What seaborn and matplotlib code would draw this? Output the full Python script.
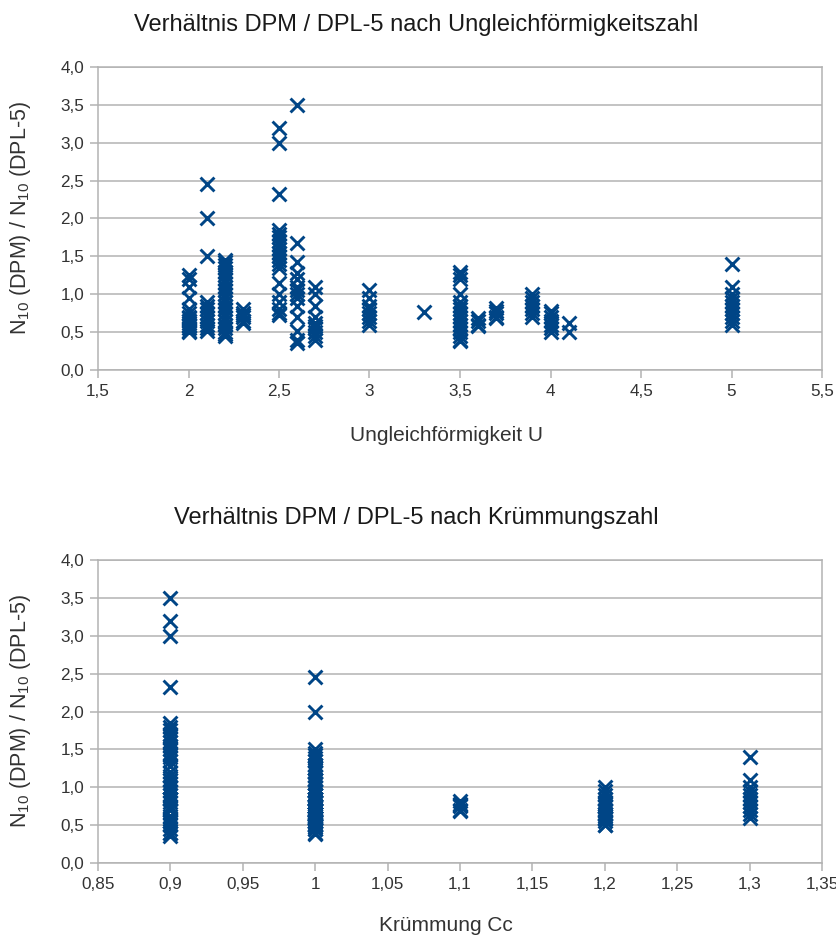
import numpy as np
import pandas as pd
import seaborn as sns
import matplotlib.pyplot as plt
from matplotlib.ticker import FuncFormatter, MultipleLocator

# one group per sample set: Ungleichförmigkeit U, Krümmung Cc, ratios N10(DPM)/N10(DPL-5)
u_werte = [2.0, 2.1, 2.2, 2.3, 2.5, 2.6, 2.7, 3.0, 3.3, 3.5, 3.6, 3.7, 3.9, 4.0, 4.1, 5.0]
cc_werte = [1.0, 1.0, 1.0, 1.0, 0.9, 0.9, 0.9, 1.0, 1.1, 1.0, 1.2, 1.1, 1.2, 1.2, 1.2, 1.3]
verhaeltnisse = [
    [1.25, 1.2, 1.1, 0.95, 0.8, 0.75, 0.7, 0.68, 0.65, 0.62, 0.6, 0.58, 0.55, 0.52, 0.5],
    [2.45, 2.0, 1.5, 0.9, 0.85, 0.8, 0.75, 0.7, 0.65, 0.6, 0.55, 0.52],
    [1.45, 1.42, 1.38, 1.35, 1.3, 1.25, 1.2, 1.15, 1.1, 1.05, 1.0, 0.95, 0.9, 0.85,
     0.8, 0.75, 0.7, 0.65, 0.6, 0.55, 0.5, 0.47, 0.45],
    [0.8, 0.75, 0.72, 0.7, 0.65, 0.62],
    [3.2, 3.0, 2.33, 1.85, 1.8, 1.75, 1.7, 1.65, 1.6, 1.55, 1.5, 1.45, 1.4, 1.35,
     1.15, 1.0, 0.9, 0.8, 0.75, 0.72],
    [3.5, 1.67, 1.42, 1.28, 1.2, 1.1, 1.05, 1.0, 0.95, 0.85, 0.7, 0.52, 0.4, 0.36],
    [1.1, 1.0, 0.85, 0.7, 0.62, 0.58, 0.55, 0.5, 0.45, 0.4],
    [1.05, 0.95, 0.85, 0.8, 0.75, 0.7, 0.65, 0.6],
    [0.77],
    [1.3, 1.25, 1.2, 1.0, 0.9, 0.85, 0.8, 0.75, 0.7, 0.65, 0.6, 0.55, 0.5, 0.45, 0.4, 0.38],
    [0.68, 0.65, 0.6, 0.58],
    [0.82, 0.78, 0.75, 0.7, 0.68],
    [1.0, 0.95, 0.9, 0.85, 0.8, 0.75, 0.7],
    [0.78, 0.75, 0.7, 0.65, 0.6, 0.55, 0.5],
    [0.62, 0.5],
    [1.4, 1.1, 1.0, 0.95, 0.9, 0.85, 0.8, 0.75, 0.7, 0.65, 0.6],
]

zeilen = []
for u, cc, werte in zip(u_werte, cc_werte, verhaeltnisse):
    for v in werte:
        zeilen.append({'U': u, 'Cc': cc, 'ratio': v})
df = pd.DataFrame(zeilen)

sns.set_style('white')
plt.rcParams['font.family'] = ['Liberation Sans', 'DejaVu Sans']
plt.rcParams['mathtext.fontset'] = 'custom'
plt.rcParams['mathtext.rm'] = 'Liberation Sans'
plt.rcParams['mathtext.it'] = 'Liberation Sans'
plt.rcParams['mathtext.default'] = 'regular'

blau = '#004586'
grau = '#b3b3b3'
textfarbe = '#333333'

fig = plt.figure(figsize=(8.37, 9.39), dpi=100)
ax1 = fig.add_axes([98 / 837, 1 - 370 / 939, 724 / 837, 303 / 939])
ax2 = fig.add_axes([98 / 837, 1 - 863 / 939, 724 / 837, 303 / 939])


def komma(x, pos):
    return ('%g' % round(x, 3)).replace('.', ',')


def komma1(x, pos):
    return ('%.1f' % x).replace('.', ',')


def zeichne(ax, spalte, xmin, xmax, xstep, xlabel, xlab_pos, ylab_y):
    sns.scatterplot(data=df, x=spalte, y='ratio', ax=ax, marker='x', color=blau,
                    s=100, linewidth=2.1, legend=False, zorder=3)
    ax.set_xlim(xmin, xmax)
    ax.set_ylim(0, 4)
    ax.xaxis.set_major_locator(MultipleLocator(xstep))
    ax.yaxis.set_major_locator(MultipleLocator(0.5))
    ax.xaxis.set_major_formatter(FuncFormatter(komma))
    ax.yaxis.set_major_formatter(FuncFormatter(komma1))
    ax.grid(axis='y', color=grau, linewidth=1.1)
    ax.grid(axis='x', visible=False)
    ax.set_axisbelow(True)
    for s in ax.spines.values():
        s.set_color(grau)
        s.set_linewidth(1.1)
        s.set_visible(True)
    ax.tick_params(axis='both', direction='out', length=6, width=1.1, color=grau,
                   labelsize=12.3, labelcolor=textfarbe, pad=4)
    ax.tick_params(axis='x', bottom=True)
    ax.tick_params(axis='y', left=True)
    ax.set_xlabel(xlabel, fontsize=15, color=textfarbe)
    ax.set_ylabel('N$_{10}$ (DPM) / N$_{10}$ (DPL-5)', fontsize=15.5, color=textfarbe)
    ax.xaxis.set_label_coords(xlab_pos[0], xlab_pos[1])
    ax.yaxis.set_label_coords(-0.09, ylab_y)


zeichne(ax1, 'U', 1.5, 5.5, 0.5, 'Ungleichförmigkeit U', ((447 - 98) / 724, -0.185), 0.5)
zeichne(ax2, 'Cc', 0.85, 1.35, 0.05, 'Krümmung Cc', ((446 - 98) / 724, -0.175), 0.5)

fig.text(416 / 837, 1 - 25 / 939, 'Verhältnis DPM / DPL-5 nach Ungleichförmigkeitszahl',
         ha='center', va='center', fontsize=17, color='#1a1a1a')
fig.text(416 / 837, 1 - 518 / 939, 'Verhältnis DPM / DPL-5 nach Krümmungszahl',
         ha='center', va='center', fontsize=17, color='#1a1a1a')

fig.savefig('out.png', dpi=100, facecolor='white')
